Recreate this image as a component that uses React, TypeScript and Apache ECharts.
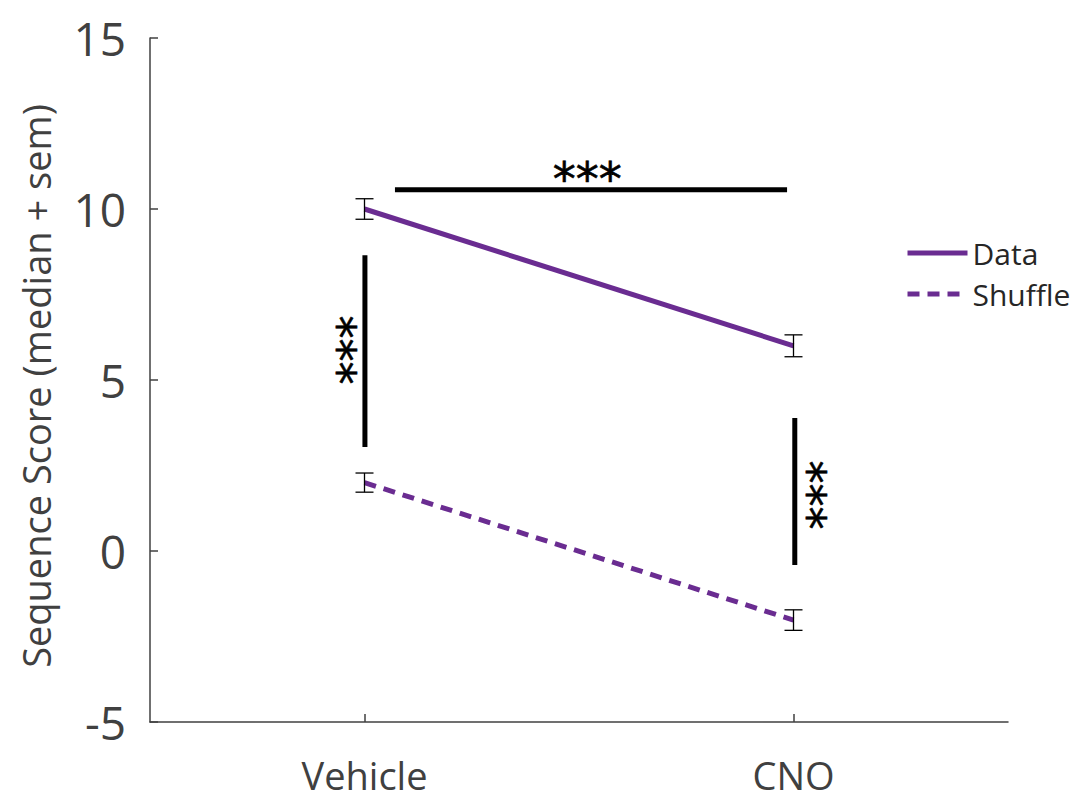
import React, { useEffect, useRef } from "react";
import * as echarts from "echarts";

const categories = ["Vehicle", "CNO"];
const dataValues = [10, 6];
const dataErrors = [0.3, 0.32];
const shuffleValues = [2, -2.02];
const shuffleErrors = [0.28, 0.3];
const yTicks = { min: -5, max: 15, interval: 5 };

// significance bars in data units: [x1, y1, x2, y2]
const sigLines = [
  [1.071, 10.56, 1.985, 10.56],
  [1.001, 8.65, 1.001, 3.04],
  [2.003, 3.89, 2.003, -0.41],
];
// significance labels: [x, y, rotated(0/1)]
const sigLabels = [
  [1.519, 11.08, 0],
  [0.959, 5.88, 1],
  [2.055, 1.64, 1],
];

const PURPLE = "#6a2c91";
const GREY = "#404040";
const FONT = "Open Sans";

export default function App() {
  const ref = useRef<HTMLDivElement>(null);
  useEffect(() => {
    const chart = echarts.init(ref.current!, null, { renderer: "svg" });
    const errData = (vals: number[], errs: number[]) =>
      vals.map((v, i) => [i + 1, v - errs[i], v + errs[i]]);
    const errRender = (params: any, api: any) => {
      const x = api.value(0);
      const lo = api.coord([x, api.value(1)]);
      const hi = api.coord([x, api.value(2)]);
      const w = 9;
      const style = { stroke: "#000", lineWidth: 1.3 };
      return {
        type: "group",
        children: [
          { type: "line", shape: { x1: lo[0], y1: lo[1], x2: hi[0], y2: hi[1] }, style },
          { type: "line", shape: { x1: lo[0] - w, y1: lo[1], x2: lo[0] + w, y2: lo[1] }, style },
          { type: "line", shape: { x1: hi[0] - w, y1: hi[1], x2: hi[0] + w, y2: hi[1] }, style },
        ],
      };
    };
    chart.setOption({
      animation: false,
      grid: { left: 150, right: 75, top: 38, bottom: 79 },
      xAxis: {
        type: "value",
        min: 0.5,
        max: 2.5,
        splitLine: { show: false },
        axisLine: { onZero: false, lineStyle: { color: GREY, width: 1.5 } },
        axisTick: { customValues: [1, 2], inside: true, length: 8, lineStyle: { color: GREY, width: 1.5 } },
        axisLabel: {
          customValues: [1, 2],
          formatter: (v: number) => categories[Math.round(v) - 1] ?? "",
          fontFamily: FONT,
          fontSize: 38,
          color: GREY,
          margin: 34,
        },
      },
      yAxis: {
        type: "value",
        min: yTicks.min,
        max: yTicks.max,
        interval: yTicks.interval,
        splitLine: { show: false },
        axisLine: { show: true, onZero: false, lineStyle: { color: GREY, width: 1.5 } },
        axisTick: { show: true, inside: true, length: 8, lineStyle: { color: GREY, width: 1.5 } },
        axisLabel: { fontFamily: FONT, fontSize: 46, color: GREY, margin: 24 },
      },
      legend: {
        orient: "vertical",
        left: 900,
        top: 233,
        itemWidth: 60,
        itemHeight: 20,
        itemGap: 11,
        itemStyle: { opacity: 0 },
        lineStyle: { width: 5 },
        textStyle: { fontFamily: FONT, fontSize: 30, color: "#262626" },
        data: ["Data", "Shuffle"],
      },
      graphic: [
        {
          type: "text",
          x: 36,
          y: 386,
          rotation: Math.PI / 2,
          style: {
            text: "Sequence Score (median + sem)",
            fontFamily: FONT,
            fontSize: 38,
            fill: GREY,
            align: "center",
            verticalAlign: "middle",
          },
        },
      ],
      series: [
        {
          name: "Data",
          type: "line",
          data: dataValues.map((v, i) => [i + 1, v]),
          symbol: "none",
          lineStyle: { color: PURPLE, width: 5, cap: "butt" },
          itemStyle: { color: PURPLE },
          z: 2,
        },
        {
          name: "Shuffle",
          type: "line",
          data: shuffleValues.map((v, i) => [i + 1, v]),
          symbol: "none",
          lineStyle: { color: PURPLE, width: 5, type: [12, 8], cap: "butt" },
          itemStyle: { color: PURPLE },
          z: 2,
        },
        {
          type: "custom",
          data: errData(dataValues, dataErrors),
          renderItem: errRender,
          z: 3,
          silent: true,
        },
        {
          type: "custom",
          data: errData(shuffleValues, shuffleErrors),
          renderItem: errRender,
          z: 3,
          silent: true,
        },
        {
          type: "custom",
          data: sigLines,
          z: 3,
          silent: true,
          renderItem: (params: any, api: any) => {
            const a = api.coord([api.value(0), api.value(1)]);
            const b = api.coord([api.value(2), api.value(3)]);
            return {
              type: "line",
              shape: { x1: a[0], y1: a[1], x2: b[0], y2: b[1] },
              style: { stroke: "#000", lineWidth: 5 },
            };
          },
        },
        {
          type: "custom",
          data: sigLabels,
          z: 3,
          silent: true,
          renderItem: (params: any, api: any) => {
            const p = api.coord([api.value(0), api.value(1)]);
            const rotated = api.value(2) === 1;
            const off = 7;
            return {
              type: "text",
              x: p[0] + (rotated ? off : 0),
              y: p[1] + (rotated ? 0 : off),
              rotation: rotated ? Math.PI / 2 : 0,
              style: {
                text: "***",
                fontFamily: "DejaVu Sans",
                fontSize: 46,
                fill: "#000",
                stroke: "#000",
                lineWidth: 0.6,
                align: "center",
                verticalAlign: "middle",
              },
            };
          },
        },
      ],
    });
    return () => chart.dispose();
  }, []);
  return <div ref={ref} style={{ width: 1083, height: 801, margin: -8 }} />;
}
